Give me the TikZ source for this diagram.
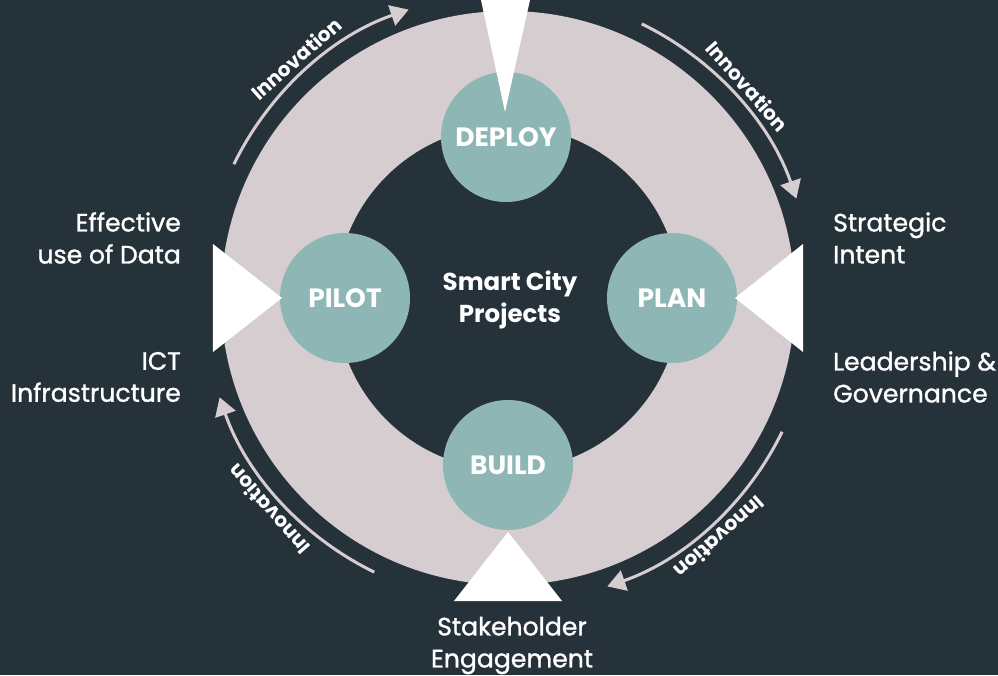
\documentclass[tikz,border=0pt]{standalone}
\usepackage{fontspec}
\setmainfont{Poppins}
\newfontfamily\medfont{Poppins}[FakeBold=1.2]
\usetikzlibrary{arrows.meta}
\definecolor{bgcol}{RGB}{38,50,57}
\definecolor{ringcol}{RGB}{213,205,208}
\definecolor{stagecol}{RGB}{141,182,180}
\begin{document}
\begin{tikzpicture}[x=1pt,y=1pt,
  stage/.style={circle, fill=stagecol, minimum size=130pt, inner sep=0pt, text=white, font=\bfseries\fontsize{26.5}{26.5}\selectfont},
  lbl/.style={text=white, font=\medfont\fontsize{25.1}{32}\selectfont, inner sep=0pt},
  center/.style={text=white, font=\bfseries\fontsize{24.5}{32}\selectfont, inner sep=0pt, align=center},
  innov/.style={text=white, font=\bfseries\fontsize{20}{20}\selectfont, inner sep=0pt},
  flow/.style={draw=ringcol, line width=3pt, -{Triangle[length=18pt,width=21pt]}},
  wedge/.style={fill=white}]
\fill[bgcol] (-508,-377) rectangle (490,298);
\useasboundingbox (-508,-377) rectangle (490,298);
\clip (-508,-377) rectangle (490,298);
% ring
\fill[ringcol] (0,0) circle[radius=287];
\fill[bgcol] (0,0) circle[radius=172];
% stages
\node[stage] (deploy) at (-2,161) {DEPLOY};
\node[stage] (pilot) at (-163,0) {PILOT};
\node[stage] (plan) at (164,0) {PLAN};
\node[stage] (build) at (0,-167) {BUILD};
% wedges
\fill[wedge] (-29.6,310) -- (-3,186) -- (24.7,310) -- cycle;
\fill[wedge] (-295,54) -- (-226,0) -- (-295,-54) -- cycle;
\fill[wedge] (295,54) -- (227,0) -- (295,-54) -- cycle;
\fill[wedge] (-54,-303) -- (0,-234) -- (54,-303) -- cycle;
% arrows
\draw[flow] (154:305) arc[start angle=154, end angle=109, radius=305];
\draw[flow] (64:305) arc[start angle=64, end angle=19, radius=305];
\draw[flow] (-26:305) arc[start angle=-26, end angle=-71, radius=305];
\draw[flow] (-116:305) arc[start angle=-116, end angle=-161, radius=305];
\node[innov, rotate=41.5] (i1) at (131.5:320) {Innovation};
\node[innov, rotate=-48.5] (i2) at (41.5:320) {Innovation};
\node[innov, rotate=-138.5] (i3) at (-48.5:320) {Innovation};
\node[innov, rotate=-228.5] (i4) at (-138.5:320) {Innovation};
% centre
\node[center] (hub) at (2,-2) {Smart City\\Projects};
% outer labels
\node[lbl, anchor=east, align=right] (data) at (-327,60) {Effective\\use of Data};
\node[lbl, anchor=east, align=right] (ict) at (-327,-79) {ICT\\Infrastructure};
\node[lbl, anchor=west, align=left] (strat) at (325,60) {Strategic\\Intent};
\node[lbl, anchor=west, align=left] (lead) at (325,-79) {Leadership \&\\Governance};
\node[lbl, align=center] (stake) at (4,-347.5) {Stakeholder\\Engagement};
\end{tikzpicture}
\end{document}
